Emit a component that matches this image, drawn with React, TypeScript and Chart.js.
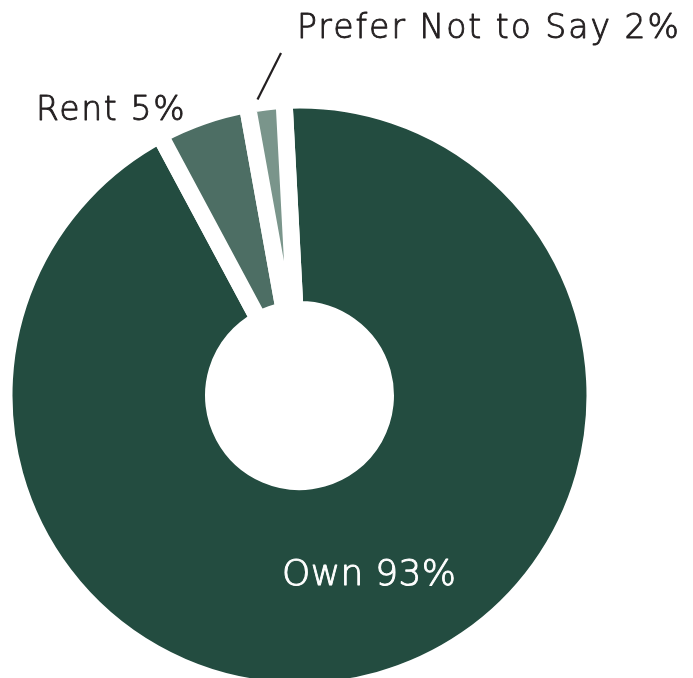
import React, { useEffect, useRef } from 'react';
import { Chart, registerables } from 'chart.js';

Chart.register(...registerables);

// ---- data ----
const categories = ['Own', 'Rent', 'Prefer Not to Say'];
const shares = [93, 5, 2];
const sliceColors = ['#234c40', '#4d6e64', '#7a958b'];

// ---- label styling (annotation placements, not data) ----
const labelStyles = [
  { x: 282, y: 585, size: 36, spacing: 0.3, color: '#ffffff' },
  { x: 36, y: 120, size: 33, spacing: 1.7, color: '#231f20' },
  { x: 297, y: 38, size: 33, spacing: 2.0, color: '#231f20' },
];
const leader = { x1: 281, y1: 53, x2: 257.5, y2: 99.5 };

export default function App() {
  const ref = useRef<HTMLCanvasElement>(null);

  useEffect(() => {
    if (!ref.current) return;
    const labelPlugin = {
      id: 'sliceLabels',
      afterDatasetsDraw(chart: any) {
        const ctx = chart.ctx as CanvasRenderingContext2D;
        const meta = chart.getDatasetMeta(0);
        ctx.save();
        ctx.textBaseline = 'alphabetic';
        ctx.textAlign = 'left';
        ctx.lineJoin = 'round';
        meta.data.forEach((_arc: any, i: number) => {
          const st = labelStyles[i];
          const text = `${categories[i]} ${shares[i]}%`;
          ctx.font = `200 ${st.size}px 'DejaVu Sans', 'Open Sans', sans-serif`;
          (ctx as any).letterSpacing = `${st.spacing}px`;
          ctx.fillStyle = st.color;
          ctx.strokeStyle = st.color;
          ctx.lineWidth = 0.9;
          ctx.fillText(text, st.x, st.y);
          ctx.strokeText(text, st.x, st.y);
        });
        ctx.strokeStyle = '#231f20';
        ctx.lineWidth = 2.2;
        ctx.beginPath();
        ctx.moveTo(leader.x1, leader.y1);
        ctx.lineTo(leader.x2, leader.y2);
        ctx.stroke();
        ctx.restore();
      },
    };

    const chart = new Chart(ref.current, {
      type: 'doughnut',
      data: {
        labels: categories,
        datasets: [
          {
            data: shares,
            backgroundColor: sliceColors,
            borderColor: '#ffffff',
            borderWidth: 17,
            borderJoinStyle: 'miter',
            hoverOffset: 0,
          } as any,
        ],
      },
      options: {
        responsive: false,
        animation: false,
        rotation: -3,
        radius: 295.5,
        cutout: '29.1%',
        layout: { padding: { left: 0, right: 94, top: 0, bottom: 9 } },
        plugins: { legend: { display: false }, tooltip: { enabled: false } },
        events: [],
      } as any,
      plugins: [labelPlugin],
    });
    return () => chart.destroy();
  }, []);

  return (
    <div
      style={{
        position: 'fixed',
        left: 0,
        top: 0,
        width: 693,
        height: 678,
        overflow: 'hidden',
        background: '#ffffff',
      }}
    >
      <canvas ref={ref} width={693} height={800} style={{ display: 'block' }} />
    </div>
  );
}
